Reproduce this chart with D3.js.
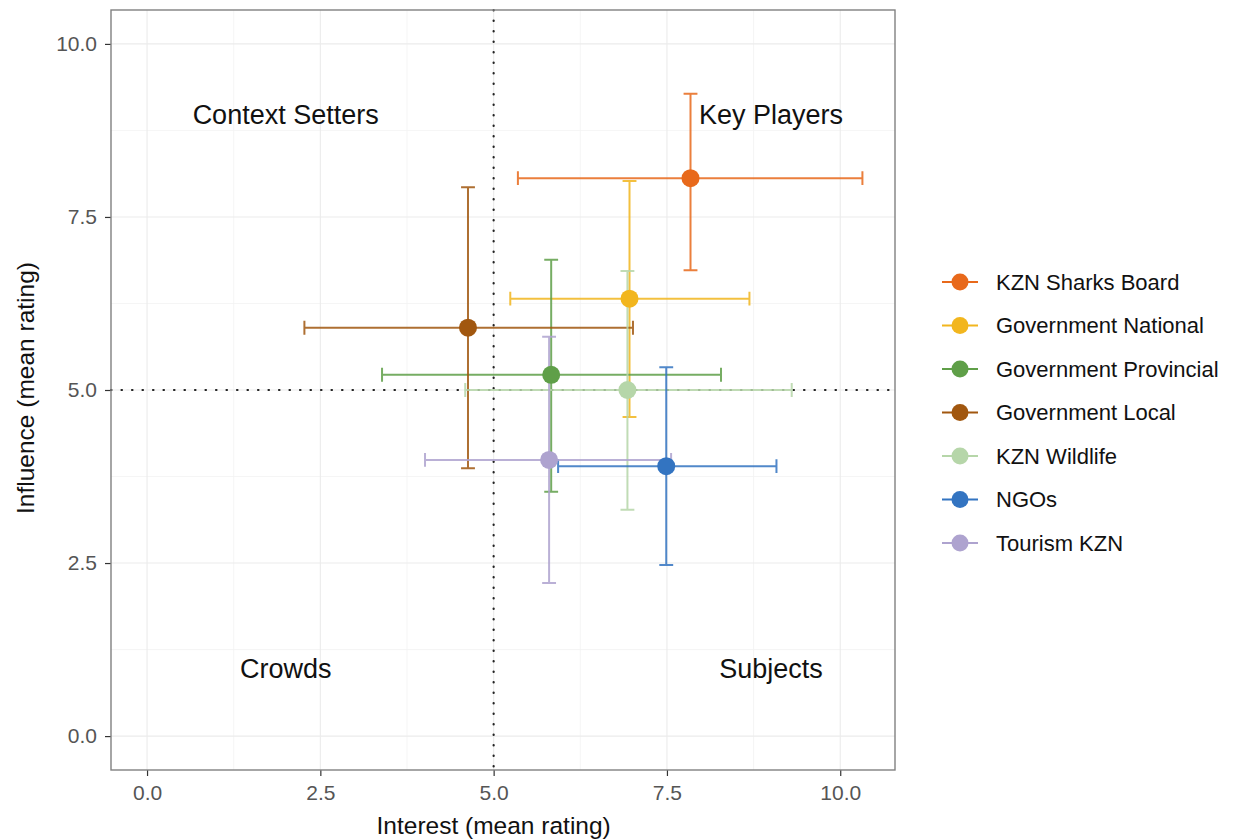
<!DOCTYPE html>
<html>
<head>
<meta charset="utf-8">
<script src="https://cdn.jsdelivr.net/npm/d3@7"></script>
<style>
  body { margin: 0; background: #fff; }
  svg { display: block; font-family: "Liberation Sans", Arial, sans-serif; }
</style>
</head>
<body>
<svg id="visualization" width="1233" height="839"></svg>
<script>
// stakeholder groups
const groups = ["KZN Sharks Board", "Government National", "Government Provincial",
    "Government Local", "KZN Wildlife", "NGOs", "Tourism KZN"];
const colors = ["#e8691b", "#f2b61e", "#5f9f48", "#a1570f", "#b6d6a9", "#3374c1", "#aea3cf"];

// mean ratings and error bar ends
const interest = [7.84, 6.96, 5.83, 4.63, 6.93, 7.49, 5.80];
const interestLow = [5.35, 5.24, 3.39, 2.27, 4.59, 5.93, 4.01];
const interestHigh = [10.32, 8.69, 8.28, 7.01, 9.30, 9.08, 7.56];
const influence = [8.06, 6.32, 5.22, 5.90, 5.00, 3.90, 3.99];
const influenceLow = [6.73, 4.61, 3.53, 3.87, 3.27, 2.47, 2.21];
const influenceHigh = [9.28, 8.02, 6.88, 7.93, 6.72, 5.33, 5.77];

const ticks = [0, 2.5, 5, 7.5, 10];
const minorTicks = [1.25, 3.75, 6.25, 8.75];

const quadrants = [
    { label: "Context Setters", x: 2, y: 9 },
    { label: "Key Players", x: 9, y: 9 },
    { label: "Crowds", x: 2, y: 1 },
    { label: "Subjects", x: 9, y: 1 }
];

const svg = d3.select("#visualization");
const margin = { top: 10, left: 111, right: 338, bottom: 69 };
const width = 1233 - margin.left - margin.right;
const height = 839 - margin.top - margin.bottom;

const x = d3.scaleLinear().domain([-0.52, 10.79]).range([0, width]);
const y = d3.scaleLinear().domain([-0.49, 10.49]).range([height, 0]);

const g = svg.append("g").attr("transform", `translate(${margin.left}, ${margin.top})`);

// grid
g.selectAll("line.minor-x").data(minorTicks).join("line")
    .attr("x1", d => x(d)).attr("x2", d => x(d)).attr("y1", 0).attr("y2", height)
    .attr("stroke", "#f2f2f2").attr("stroke-width", 0.8);
g.selectAll("line.minor-y").data(minorTicks).join("line")
    .attr("y1", d => y(d)).attr("y2", d => y(d)).attr("x1", 0).attr("x2", width)
    .attr("stroke", "#f2f2f2").attr("stroke-width", 0.8);
g.selectAll("line.major-x").data(ticks).join("line")
    .attr("x1", d => x(d)).attr("x2", d => x(d)).attr("y1", 0).attr("y2", height)
    .attr("stroke", "#ebebeb").attr("stroke-width", 1.1);
g.selectAll("line.major-y").data(ticks).join("line")
    .attr("y1", d => y(d)).attr("y2", d => y(d)).attr("x1", 0).attr("x2", width)
    .attr("stroke", "#ebebeb").attr("stroke-width", 1.1);

// axes
const fmt = d3.format(".1f");
const xAxis = g.append("g").attr("transform", `translate(0, ${height})`)
    .call(d3.axisBottom(x).tickValues(ticks).tickFormat(fmt).tickSize(6).tickPadding(9));
const yAxis = g.append("g")
    .call(d3.axisLeft(y).tickValues(ticks).tickFormat(fmt).tickSize(6).tickPadding(8));
[xAxis, yAxis].forEach(a => {
    a.select(".domain").remove();
    a.selectAll(".tick line").attr("stroke", "#333").attr("stroke-width", 1.2);
    a.selectAll(".tick text").attr("fill", "#555").attr("font-size", 21)
        .attr("font-family", "Liberation Sans, Arial, sans-serif");
});

// reference lines
g.append("line").attr("x1", x(5)).attr("x2", x(5)).attr("y1", 0).attr("y2", height)
    .attr("stroke", "#222").attr("stroke-width", 2.2).attr("stroke-dasharray", "0.5 10")
    .attr("stroke-linecap", "round");
g.append("line").attr("y1", y(5)).attr("y2", y(5)).attr("x1", 0).attr("x2", width)
    .attr("stroke", "#222").attr("stroke-width", 2.2).attr("stroke-dasharray", "0.5 10")
    .attr("stroke-linecap", "round");

// quadrant labels
g.selectAll("text.quad").data(quadrants).join("text")
    .attr("class", "quad")
    .attr("x", d => x(d.x)).attr("y", d => y(d.y))
    .attr("dy", "0.4em").attr("text-anchor", "middle")
    .attr("font-size", 27).attr("fill", "#111")
    .text(d => d.label);

// error bars
const idx = d3.range(groups.length);
const cap = 0.1;
const bars = g.selectAll("g.bar").data(idx).join("g")
    .attr("stroke", i => colors[i]).attr("stroke-width", 2).attr("fill", "none")
    .attr("opacity", 0.85);
bars.append("path").attr("d", i => `M${x(interestLow[i])},${y(influence[i])}H${x(interestHigh[i])}`);
bars.append("path").attr("d", i =>
    `M${x(interestLow[i])},${y(influence[i] - cap)}V${y(influence[i] + cap)}` +
    `M${x(interestHigh[i])},${y(influence[i] - cap)}V${y(influence[i] + cap)}`);
bars.append("path").attr("d", i => `M${x(interest[i])},${y(influenceLow[i])}V${y(influenceHigh[i])}`);
bars.append("path").attr("d", i =>
    `M${x(interest[i] - cap)},${y(influenceLow[i])}H${x(interest[i] + cap)}` +
    `M${x(interest[i] - cap)},${y(influenceHigh[i])}H${x(interest[i] + cap)}`);

// points
g.selectAll("circle.pt").data(idx).join("circle")
    .attr("cx", i => x(interest[i])).attr("cy", i => y(influence[i]))
    .attr("r", 9).attr("fill", i => colors[i]);

// panel border
g.append("rect").attr("width", width).attr("height", height)
    .attr("fill", "none").attr("stroke", "#808080").attr("stroke-width", 1.4);

// axis titles
svg.append("text").attr("x", margin.left + x(5)).attr("y", 834)
    .attr("text-anchor", "middle").attr("font-size", 24.5).attr("fill", "#111")
    .text("Interest (mean rating)");
svg.append("text").attr("transform", `translate(34, ${margin.top + y(5) - 2}) rotate(-90)`)
    .attr("text-anchor", "middle").attr("font-size", 24.5).attr("fill", "#111")
    .text("Influence (mean rating)");

// legend
const legend = svg.append("g").attr("transform", "translate(942, 282)");
const rows = legend.selectAll("g").data(idx).join("g")
    .attr("transform", i => `translate(0, ${i * 43.5})`);
rows.append("line").attr("x1", 0).attr("x2", 36)
    .attr("stroke", i => colors[i]).attr("stroke-width", 2);
rows.append("circle").attr("cx", 18).attr("r", 8.5).attr("fill", i => colors[i]);
rows.append("text").attr("x", 54).attr("dy", "0.36em")
    .attr("font-size", 22).attr("fill", "#111")
    .text(i => groups[i]);
</script>
</body>
</html>
